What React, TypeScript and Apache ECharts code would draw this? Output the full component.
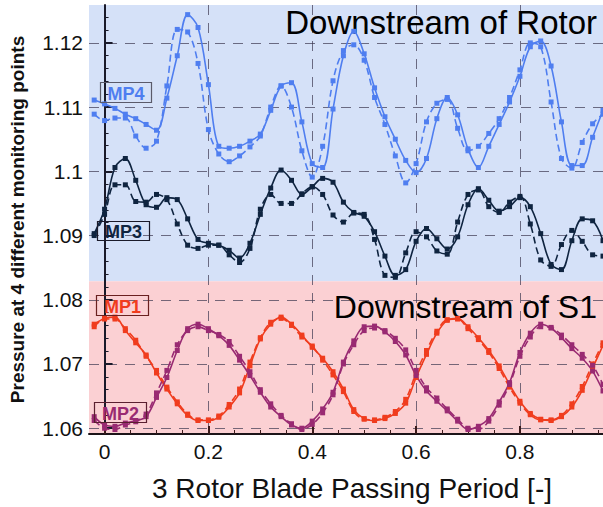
import React, { useEffect, useRef } from "react";
import * as echarts from "echarts";

const xValues = [
  -0.02, 0, 0.02, 0.04, 0.06, 0.08, 0.1, 0.12, 0.14, 0.16,
  0.18, 0.2, 0.22, 0.24, 0.26, 0.28, 0.3, 0.32, 0.34, 0.36,
  0.38, 0.4, 0.42, 0.44, 0.46, 0.48, 0.5, 0.52, 0.54, 0.56,
  0.58, 0.6, 0.62, 0.64, 0.66, 0.68, 0.7, 0.72, 0.74, 0.76,
  0.78, 0.8, 0.82, 0.84, 0.86, 0.88, 0.9, 0.92, 0.94, 0.96,
];

const mp4Solid = [
  1.1111, 1.1105, 1.1098, 1.1089, 1.1082, 1.1073, 1.1064, 1.1114, 1.118, 1.1244,
  1.1224, 1.1135, 1.1039, 1.1036, 1.1039, 1.1047, 1.1058, 1.1095, 1.1133, 1.1138,
  1.1077, 1.1012, 1.1006, 1.1097, 1.118, 1.1218, 1.1183, 1.113, 1.1085, 1.105,
  1.1017, 1.0998, 1.102, 1.1082, 1.1115, 1.1088, 1.1035, 1.1006, 1.1039, 1.1073,
  1.1108, 1.1148, 1.1194, 1.1203, 1.1164, 1.1077, 1.1009, 1.1009, 1.1053, 1.1095,
];
const mp4Dashed = [
  1.1089, 1.1079, 1.1083, 1.1083, 1.1055, 1.1036, 1.1047, 1.1133, 1.1221, 1.1217,
  1.1168, 1.1065, 1.1027, 1.1015, 1.1024, 1.1038, 1.1055, 1.11, 1.1133, 1.11,
  1.1032, 1.0991, 1.1039, 1.1141, 1.1188, 1.1197, 1.1173, 1.1115, 1.1073, 1.1024,
  1.0982, 1.1012, 1.1077, 1.1106, 1.1112, 1.1067, 1.1032, 1.1039, 1.1059, 1.1082,
  1.1115, 1.1158, 1.12, 1.1194, 1.1108, 1.102, 1.1005, 1.1045, 1.1074, 1.1089,
];
const mp3Solid = [
  1.0903, 1.0941, 1.1006, 1.102, 1.0986, 1.0948, 1.0944, 1.0959, 1.0956, 1.0926,
  1.0894, 1.0888, 1.0885, 1.0877, 1.0865, 1.0888, 1.0933, 1.0974, 1.1002, 1.0986,
  1.0964, 1.0976, 1.0989, 1.0983, 1.0952, 1.0936, 1.093, 1.0906, 1.0868, 1.0838,
  1.0847, 1.0891, 1.0911, 1.0895, 1.0879, 1.0898, 1.0948, 1.0973, 1.0955, 1.0938,
  1.0945, 1.0959, 1.0945, 1.0903, 1.0855, 1.0847, 1.0892, 1.0926, 1.0923, 1.0892,
];
const mp3Dashed = [
  1.09, 1.0933, 1.0979, 1.0979, 1.0953, 1.0952, 1.0964, 1.0956, 1.0918, 1.0885,
  1.088, 1.0885, 1.0885, 1.087, 1.0858, 1.088, 1.0941, 1.0964, 1.095, 1.095,
  1.0965, 1.0976, 1.0964, 1.0932, 1.0921, 1.0935, 1.0933, 1.0894, 1.0838, 1.0835,
  1.0873, 1.0906, 1.0898, 1.0876, 1.0871, 1.0921, 1.0964, 1.0971, 1.0945, 1.0936,
  1.0952, 1.0961, 1.0918, 1.0862, 1.0852, 1.0886, 1.0908, 1.0891, 1.087, 1.0868,
];
const mp1Solid = [
  1.0762, 1.0771, 1.0773, 1.0752, 1.0733, 1.0714, 1.0686, 1.0661, 1.0638, 1.062,
  1.0612, 1.0612, 1.0617, 1.0633, 1.0655, 1.0697, 1.0739, 1.0762, 1.0773, 1.0762,
  1.0745, 1.0726, 1.0709, 1.0688, 1.0661, 1.0629, 1.0615, 1.0612, 1.0615, 1.0623,
  1.0639, 1.0679, 1.0715, 1.0748, 1.0768, 1.0771, 1.0758, 1.0741, 1.0721, 1.0697,
  1.0668, 1.0642, 1.0623, 1.0614, 1.0612, 1.0618, 1.0633, 1.0659, 1.0694, 1.0729,
];
const mp1Dashed = [
  1.0758, 1.077, 1.077, 1.0755, 1.0737, 1.0712, 1.069, 1.0664, 1.0641, 1.0622,
  1.0613, 1.0613, 1.0619, 1.0637, 1.0661, 1.0703, 1.0741, 1.0765, 1.0771, 1.076,
  1.0742, 1.0728, 1.0706, 1.0683, 1.0657, 1.0626, 1.0614, 1.0613, 1.0617, 1.0626,
  1.0645, 1.0686, 1.0721, 1.0751, 1.0769, 1.077, 1.0755, 1.0738, 1.0718, 1.0693,
  1.0664, 1.0639, 1.0621, 1.0613, 1.0613, 1.062, 1.0638, 1.0665, 1.07, 1.0733,
];
const mp2Solid = [
  1.0618, 1.0605, 1.0603, 1.0608, 1.0612, 1.0618, 1.0648, 1.0679, 1.0721, 1.0755,
  1.0762, 1.0755, 1.0744, 1.0729, 1.0706, 1.0682, 1.0656, 1.0633, 1.0618, 1.0605,
  1.06, 1.0611, 1.063, 1.0656, 1.0703, 1.0736, 1.0758, 1.0759, 1.075, 1.0735,
  1.0714, 1.0682, 1.0658, 1.0642, 1.0627, 1.0611, 1.0598, 1.0603, 1.0615, 1.0641,
  1.0671, 1.0718, 1.0748, 1.0762, 1.0756, 1.0741, 1.0724, 1.0709, 1.0689, 1.0658,
];
const mp2Dashed = [
  1.0612, 1.06, 1.0598, 1.0605, 1.061, 1.0622, 1.0655, 1.069, 1.073, 1.0752,
  1.0758, 1.0752, 1.0746, 1.0735, 1.0712, 1.0688, 1.066, 1.0638, 1.062, 1.0607,
  1.0598, 1.0606, 1.0624, 1.0652, 1.07, 1.073, 1.0752, 1.0756, 1.0752, 1.074,
  1.0722, 1.069, 1.0663, 1.0647, 1.063, 1.0614, 1.06, 1.0598, 1.0611, 1.0636,
  1.0668, 1.0712, 1.0742, 1.0758, 1.0757, 1.0745, 1.073, 1.0715, 1.0698, 1.0668,
];

const xTicks = [0, 0.2, 0.4, 0.6, 0.8];
const xMinorTicks = [0.05, 0.1, 0.15, 0.25, 0.3, 0.35, 0.45, 0.5, 0.55, 0.65, 0.7, 0.75, 0.85, 0.9, 0.95];
const yTicks = [1.06, 1.07, 1.08, 1.09, 1.1, 1.11, 1.12];
const yMinorTicks = [
  1.062, 1.064, 1.066, 1.068, 1.072, 1.074, 1.076, 1.078, 1.082, 1.084, 1.086, 1.088,
  1.092, 1.094, 1.096, 1.098, 1.102, 1.104, 1.106, 1.108, 1.112, 1.114, 1.116, 1.118,
  1.122, 1.124,
];

const X_MIN = -0.03;
const X_MAX = 0.96;
const Y_MIN = 1.0591;
const Y_MAX = 1.1259;
const REGION_SPLIT = 1.0829;

const FONT = '"Liberation Sans", Arial, Helvetica, sans-serif';

const C_MP4 = "#4f7ef0";
const C_MP3 = "#0f2440";
const C_MP1 = "#f03c1e";
const C_MP2 = "#992a72";

function makeSeries(name: string, values: number[], color: string, dashed: boolean, extra: any = {}) {
  return {
    name,
    type: "line",
    xAxisIndex: 0,
    yAxisIndex: 0,
    data: xValues.map((x, i) => [x, values[i]]),
    smooth: 0.35,
    symbol: "rect",
    symbolSize: 5,
    showSymbol: true,
    z: 3,
    lineStyle: { color, width: 1.6, type: dashed ? [7, 4] : "solid" },
    itemStyle: { color },
    emphasis: { disabled: true },
    ...extra,
  };
}

function labelBox(text: string, x: number, y: number, w: number, h: number, color: string, border: string) {
  return [
    {
      type: "rect",
      z: 5,
      shape: { x: x + 0.5, y: y + 0.5, width: w, height: h },
      style: { fill: "none", stroke: border, lineWidth: 1.2 },
    },
    {
      type: "text",
      z: 6,
      x: x + w / 2 + 0.5,
      y: y + h / 2 + 1.5,
      style: {
        text,
        fill: color,
        font: 'bold 18px "Liberation Sans", Arial, sans-serif',
        align: "center",
        verticalAlign: "middle",
      },
    },
  ];
}

export default function App() {
  const ref = useRef<HTMLDivElement>(null);

  useEffect(() => {
    if (!ref.current) return;
    const chart = echarts.init(ref.current, null, { renderer: "svg" });
    const gridLine = { type: [10, 8], color: "rgba(60,55,80,0.7)", width: 1 };

    chart.setOption({
      animation: false,
      backgroundColor: "#ffffff",
      grid: { left: 88, right: 0, top: 5, bottom: 61, containLabel: false },
      xAxis: [
        {
          type: "value",
          min: X_MIN,
          max: X_MAX,
          position: "bottom",
          z: 1,
          axisLine: { show: true, lineStyle: { color: "#1c1418", width: 2 } },
          axisTick: { show: false },
          axisLabel: {
            fontSize: 21,
            color: "#111",
            fontFamily: FONT,
            margin: 7,
            showMinLabel: false,
            showMaxLabel: false,
            formatter: (v: number) => (xTicks.some((t) => Math.abs(t - v) < 1e-6) ? String(Math.round(v * 10) / 10) : ""),
          },
          splitLine: { show: true, showMinLine: false, showMaxLine: false, lineStyle: gridLine },
          name: "3 Rotor Blade Passing Period [-]",
          nameLocation: "middle",
          nameGap: 40,
          nameTextStyle: { fontSize: 28, color: "#111", fontFamily: FONT, padding: [0, 0, 0, 12] },
        },
        {
          type: "value",
          min: X_MIN,
          max: X_MAX,
          position: "bottom",
          z: 1,
          axisLine: { show: false },
          axisTick: {
            show: true,
            inside: true,
            length: 8,
            customValues: xTicks,
            lineStyle: { color: "#3a1a1a", width: 2 },
          },
          axisLabel: { show: false },
          splitLine: { show: false },
        },
        {
          type: "value",
          min: X_MIN,
          max: X_MAX,
          position: "bottom",
          z: 1,
          axisLine: { show: false },
          axisTick: {
            show: true,
            inside: true,
            length: 4,
            customValues: xMinorTicks,
            lineStyle: { color: "#3a1a1a", width: 1 },
          },
          axisLabel: { show: false },
          splitLine: { show: false },
        },
      ],
      yAxis: [
        {
          type: "value",
          min: Y_MIN,
          max: Y_MAX,
          splitNumber: 6,
          position: "left",
          z: 1,
          axisLine: { show: true, lineStyle: { color: "#1a1a2a", width: 2 } },
          axisTick: { show: false },
          axisLabel: {
            fontSize: 21,
            color: "#111",
            fontFamily: FONT,
            margin: 6,
            showMinLabel: false,
            showMaxLabel: false,
            formatter: (v: number) => (yTicks.some((t) => Math.abs(t - v) < 1e-6) ? String(Math.round(v * 100) / 100) : ""),
          },
          splitLine: { show: true, showMinLine: false, showMaxLine: false, lineStyle: gridLine },
          name: "Pressure at 4 different monitoring points",
          nameLocation: "middle",
          nameGap: 62,
          nameTextStyle: { fontSize: 19, fontWeight: "bold", color: "#111", fontFamily: FONT },
        },
        {
          type: "value",
          min: Y_MIN,
          max: Y_MAX,
          position: "left",
          z: 1,
          axisLine: { show: false },
          axisTick: {
            show: true,
            inside: true,
            length: 8,
            customValues: yTicks,
            lineStyle: { color: "#1a1a2a", width: 2 },
          },
          axisLabel: { show: false },
          splitLine: { show: false },
        },
        {
          type: "value",
          min: Y_MIN,
          max: Y_MAX,
          position: "left",
          z: 1,
          axisLine: { show: false },
          axisTick: {
            show: true,
            inside: true,
            length: 4,
            customValues: yMinorTicks,
            lineStyle: { color: "#1a1a2a", width: 1 },
          },
          axisLabel: { show: false },
          splitLine: { show: false },
        },
      ],
      series: [
        makeSeries("MP1", mp1Solid, C_MP1, false, {
          markArea: {
            silent: true,
            z: 0,
            data: [
              [{ yAxis: REGION_SPLIT, itemStyle: { color: "#d5e1f8" } }, { yAxis: Y_MAX }],
              [{ yAxis: Y_MIN, itemStyle: { color: "#fbd0d3" } }, { yAxis: REGION_SPLIT }],
            ],
          },
        }),
        makeSeries("MP1 dashed", mp1Dashed, C_MP1, true),
        makeSeries("MP2", mp2Solid, C_MP2, false),
        makeSeries("MP2 dashed", mp2Dashed, C_MP2, true),
        makeSeries("MP3", mp3Solid, C_MP3, false),
        makeSeries("MP3 dashed", mp3Dashed, C_MP3, true),
        makeSeries("MP4", mp4Solid, C_MP4, false),
        makeSeries("MP4 dashed", mp4Dashed, C_MP4, true),
      ],
      graphic: [
        {
          type: "text",
          x: 597,
          y: 22,
          z: 2,
          style: {
            text: "Downstream of Rotor",
            fontSize: 33,
            fontFamily: FONT,
            fill: "#000",
            align: "right",
            verticalAlign: "middle",
          },
        },
        {
          type: "text",
          x: 597,
          y: 307,
          z: 2,
          style: {
            text: "Downstream of S1",
            fontSize: 32,
            fontFamily: FONT,
            fill: "#000",
            align: "right",
            verticalAlign: "middle",
          },
        },
        ...labelBox("MP4", 100, 82, 51, 20, C_MP4, "#5a5a6a"),
        ...labelBox("MP3", 97, 221, 52, 19, C_MP3, "#1a1a2a"),
        ...labelBox("MP1", 96, 295, 52, 20, C_MP1, "#6a2020"),
        ...labelBox("MP2", 94, 402, 52, 20, C_MP2, "#5a2030"),
      ],
    });

    return () => chart.dispose();
  }, []);

  return (
    <div
      ref={ref}
      style={{ position: "fixed", left: 0, top: 0, width: 603, height: 507, background: "#fff" }}
    />
  );
}
